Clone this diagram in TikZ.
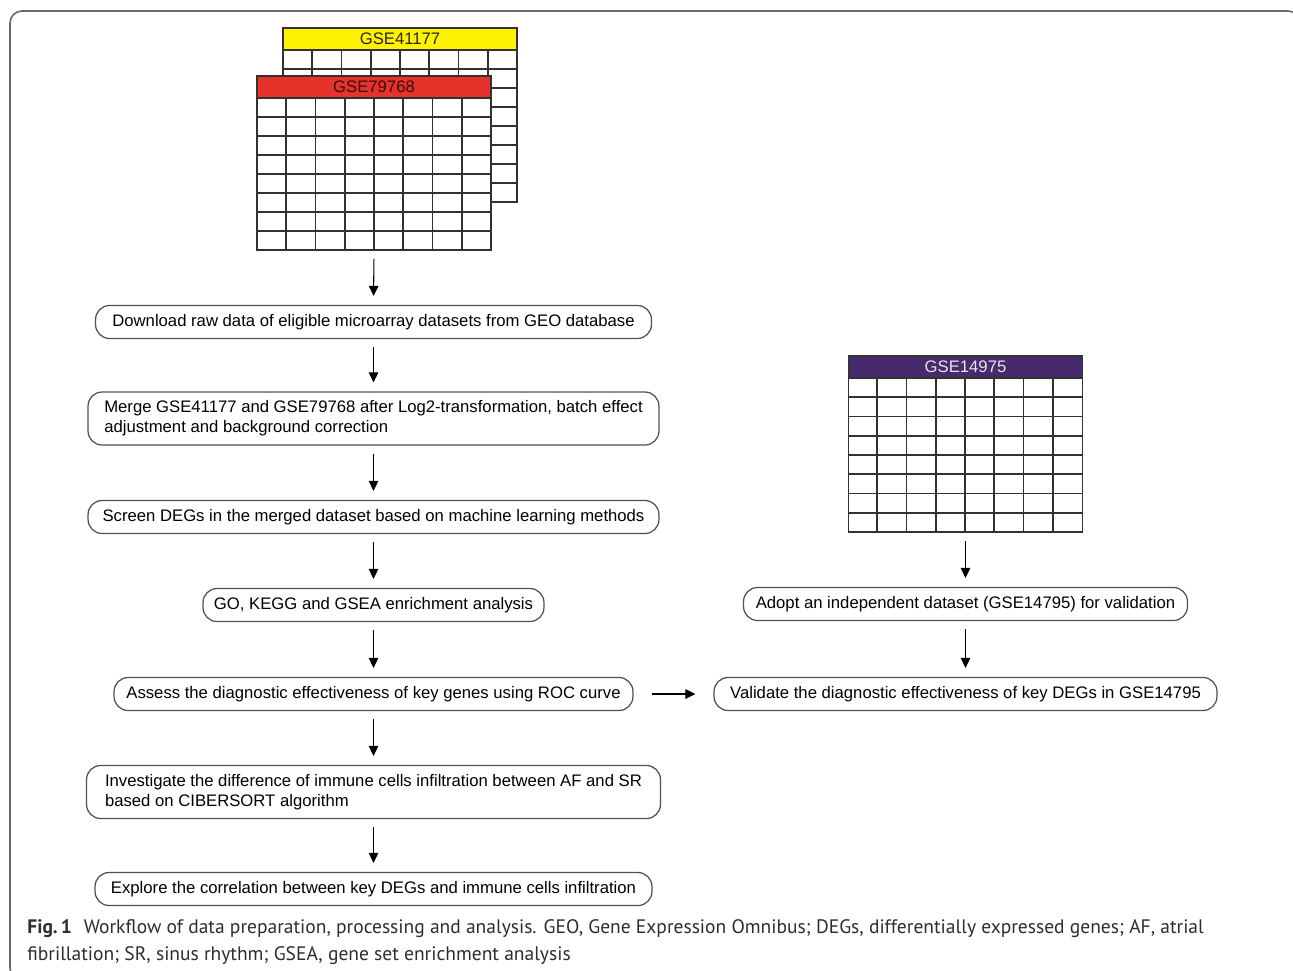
\documentclass[tikz,border=0pt]{standalone}
\usepackage{fontspec}
\setmainfont{Liberation Sans}
\newfontfamily\capfont{PT Sans}
\definecolor{gseyellow}{RGB}{255,242,0}
\definecolor{gsered}{RGB}{229,50,42}
\definecolor{gsepurple}{RGB}{71,41,110}
\definecolor{boxgray}{RGB}{80,80,80}
\definecolor{gridgray}{RGB}{50,50,50}
\definecolor{framegray}{RGB}{105,105,105}
\definecolor{captext}{RGB}{45,45,45}
\usetikzlibrary{arrows.meta}

\begin{document}
\begin{tikzpicture}[x=0.02cm, y=-0.02cm,
  stage/.style={draw=boxgray, line width=0.7pt, rounded corners=0.28cm, fill=white, minimum height=0.66cm, inner xsep=0pt, align=center, font=\fontsize{9.5}{11.4}\selectfont},
  twoline/.style={stage, minimum height=1.06cm, align=left},
  sheet/.style={draw=gridgray, line width=0.9pt, fill=white, minimum width=4.68cm, minimum height=3.04cm, inner sep=0pt},
  head/.style={draw=gridgray, line width=0.9pt, minimum width=4.68cm, minimum height=0.44cm, inner sep=0pt, font=\fontsize{9.5}{11.4}\selectfont},
  gridline/.style={draw=gridgray, line width=0.9pt},
  arr/.style={-{Triangle[length=2mm, width=1.9mm]}, line width=0.6pt, shorten <=0.16cm, shorten >=0.18cm},
  side/.style={arr, shorten <=0.36cm, shorten >=0.36cm}
]
\useasboundingbox (0,0) rectangle (1293,970);
\clip (0,0) rectangle (1293,970);
\draw[framegray, line width=0.9pt, rounded corners=0.24cm] (10,11) rectangle (1300,980);

% datasets for training
\node[sheet] (t41177) at (400,126) {};
\node[head, fill=gseyellow, text=black!85] (h41177) at (400,39) {GSE41177};
\foreach \c in {1,...,7} \draw[gridline] (283+\c*29.25,50) -- (283+\c*29.25,202);
\foreach \r in {1,...,7} \draw[gridline] (283,50+\r*19) -- (517,50+\r*19);

\node[sheet] (t79768) at (374,174) {};
\node[head, fill=gsered, text=black!75!gsered] (h79768) at (374,87) {GSE79768};
\foreach \c in {1,...,7} \draw[gridline] (257+\c*29.25,98) -- (257+\c*29.25,250);
\foreach \r in {1,...,7} \draw[gridline] (257,98+\r*19) -- (491,98+\r*19);

% validation dataset
\node[sheet, minimum height=3.08cm] (t14975) at (965.5,455) {};
\node[head, fill=gsepurple, text=white!90!black] (h14975) at (965.5,367) {GSE14975};
\foreach \c in {1,...,7} \draw[gridline] (848+\c*29.25,378) -- (848+\c*29.25,532);
\foreach \r in {1,...,7} \draw[gridline] (848,378+\r*19.25) -- (1082,378+\r*19.25);

% main workflow
\node[stage, minimum width=11.12cm] (down)   at (373.5,322) {Download raw data of eligible microarray datasets from GEO database};
\node[twoline, minimum width=11.42cm] (merge)  at (373.5,418.5) {Merge GSE41177 and GSE79768 after Log2-transformation, batch effect\\adjustment and background correction};
\node[stage, minimum width=11.42cm] (screen) at (373.5,517) {Screen DEGs in the merged dataset based on machine learning methods};
\node[stage, minimum width=6.82cm]  (enrich) at (373.5,605) {GO, KEGG and GSEA enrichment analysis};
\node[stage, minimum width=10.38cm] (assess) at (373.5,694) {Assess the diagnostic effectiveness of key genes using ROC curve};
\node[twoline, minimum width=11.48cm] (immune) at (373.5,792) {Investigate the difference of immune cells infiltration between AF and SR\\based on CIBERSORT algorithm};
\node[stage, minimum width=11.14cm] (corr)   at (373.5,889) {Explore the correlation between key DEGs and immune cells infiltration};

% validation branch
\node[stage, minimum width=8.88cm]  (adopt)  at (965.5,604) {Adopt an independent dataset (GSE14795) for validation};
\node[stage, minimum width=10.06cm] (valid)  at (965.5,694) {Validate the diagnostic effectiveness of key DEGs in GSE14795};

\draw[arr] (t79768.south) -- (down.north);
\draw[arr] (down.south) -- (merge.north);
\draw[arr] (merge.south) -- (screen.north);
\draw[arr] (screen.south) -- (enrich.north);
\draw[arr] (enrich.south) -- (assess.north);
\draw[arr] (assess.south) -- (immune.north);
\draw[arr] (immune.south) -- (corr.north);
\draw[arr] (t14975.south) -- (adopt.north);
\draw[arr] (adopt.south) -- (valid.north);
\draw[side] (assess.east) -- (valid.west);

% caption
\node[anchor=north west, align=left, inner sep=0pt, text=captext, font=\capfont\fontsize{11.1}{15.4}\selectfont] (cap) at (27,919)
  {\textbf{Fig.\,1}\hspace{0.6em}Workflow of data preparation, processing and analysis. GEO, Gene Expression Omnibus; DEGs, differentially expressed genes; AF, atrial\\fibrillation; SR, sinus rhythm; GSEA, gene set enrichment analysis};
\end{tikzpicture}
\end{document}
